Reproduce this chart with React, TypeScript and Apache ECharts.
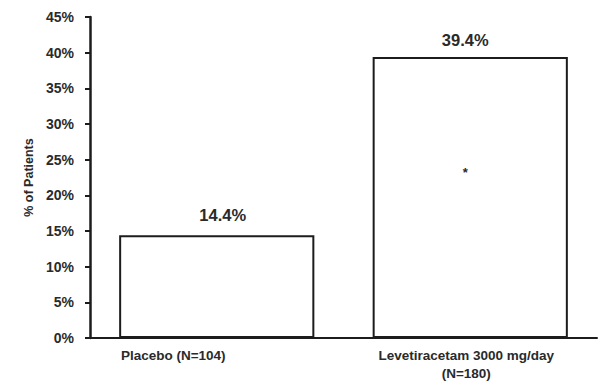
import React, { useEffect, useRef } from "react";
import * as echarts from "echarts";

const categories = ["Placebo (N=104)", "Levetiracetam 3000 mg/day\n(N=180)"];
const values = [14.4, 39.4];
const valueLabels = ["14.4%", "39.4%"];
const yTicks = [0, 5, 10, 15, 20, 25, 30, 35, 40, 45];
const yAxisName = "% of Patients";
const asteriskCategory = 1;
const asteriskValue = 23.5;

const FONT = '"Liberation Sans", Arial, sans-serif';
const INK = "#1c1c1c";
const TEXT = "#2a2a2a";

export default function App() {
  const ref = useRef<HTMLDivElement>(null);
  useEffect(() => {
    if (!ref.current) return;
    const chart = echarts.init(ref.current, undefined, { renderer: "svg" });
    const labelPads = [
      [0, 87, 0, 0],
      [0, 8, 0, 0],
    ];
    const labelOffsets = [
      [6, 0],
      [-5, 0],
    ];
    const labelDistances = [12, 8];
    chart.setOption({
      animation: false,
      backgroundColor: "#ffffff",
      grid: { left: 90, right: 17, top: 17, bottom: 51, containLabel: false },
      xAxis: {
        type: "category",
        data: categories.map((c, i) => ({
          value: c,
          textStyle: { padding: labelPads[i] },
        })),
        axisLine: { show: true, lineStyle: { color: INK, width: 2 } },
        axisTick: { show: false },
        axisLabel: {
          color: TEXT,
          fontFamily: FONT,
          fontWeight: "bold",
          fontSize: 13.5,
          lineHeight: 18,
          margin: 8,
          interval: 0,
        },
        splitLine: { show: false },
      },
      yAxis: {
        type: "value",
        min: yTicks[0],
        max: yTicks[yTicks.length - 1],
        interval: yTicks[1] - yTicks[0],
        name: yAxisName,
        nameLocation: "middle",
        nameRotate: 90,
        nameGap: 50,
        nameTextStyle: {
          color: TEXT,
          fontFamily: FONT,
          fontWeight: "bold",
          fontSize: 12.5,
        },
        axisLine: { show: true, lineStyle: { color: INK, width: 2.5 } },
        axisTick: { show: true, inside: false, length: 5, lineStyle: { color: INK, width: 2 } },
        axisLabel: {
          color: TEXT,
          fontFamily: FONT,
          fontWeight: "bold",
          fontSize: 14,
          margin: 16,
          formatter: "{value}%",
        },
        splitLine: { show: false },
      },
      series: [
        {
          type: "bar",
          barWidth: "77%",
          data: values.map((v, i) => ({
            value: v,
            label: {
              show: true,
              position: "top",
              distance: labelDistances[i],
              offset: labelOffsets[i],
              formatter: valueLabels[i],
              color: TEXT,
              fontFamily: FONT,
              fontWeight: "bold",
              fontSize: 16.5,
            },
          })),
          itemStyle: { color: "#ffffff", borderColor: INK, borderWidth: 2 },
          markPoint: {
            symbol: "circle",
            symbolSize: 1,
            itemStyle: { color: "rgba(0,0,0,0)" },
            label: {
              show: true,
              position: "inside",
              formatter: "*",
              color: TEXT,
              fontFamily: FONT,
              fontWeight: "bold",
              fontSize: 13,
              offset: [-5, 2],
            },
            data: [{ coord: [asteriskCategory, asteriskValue] }],
          },
        },
      ],
    });
    return () => chart.dispose();
  }, []);
  return (
    <div
      ref={ref}
      style={{ position: "fixed", left: 0, top: 0, width: 614, height: 389, background: "#fff" }}
    />
  );
}
